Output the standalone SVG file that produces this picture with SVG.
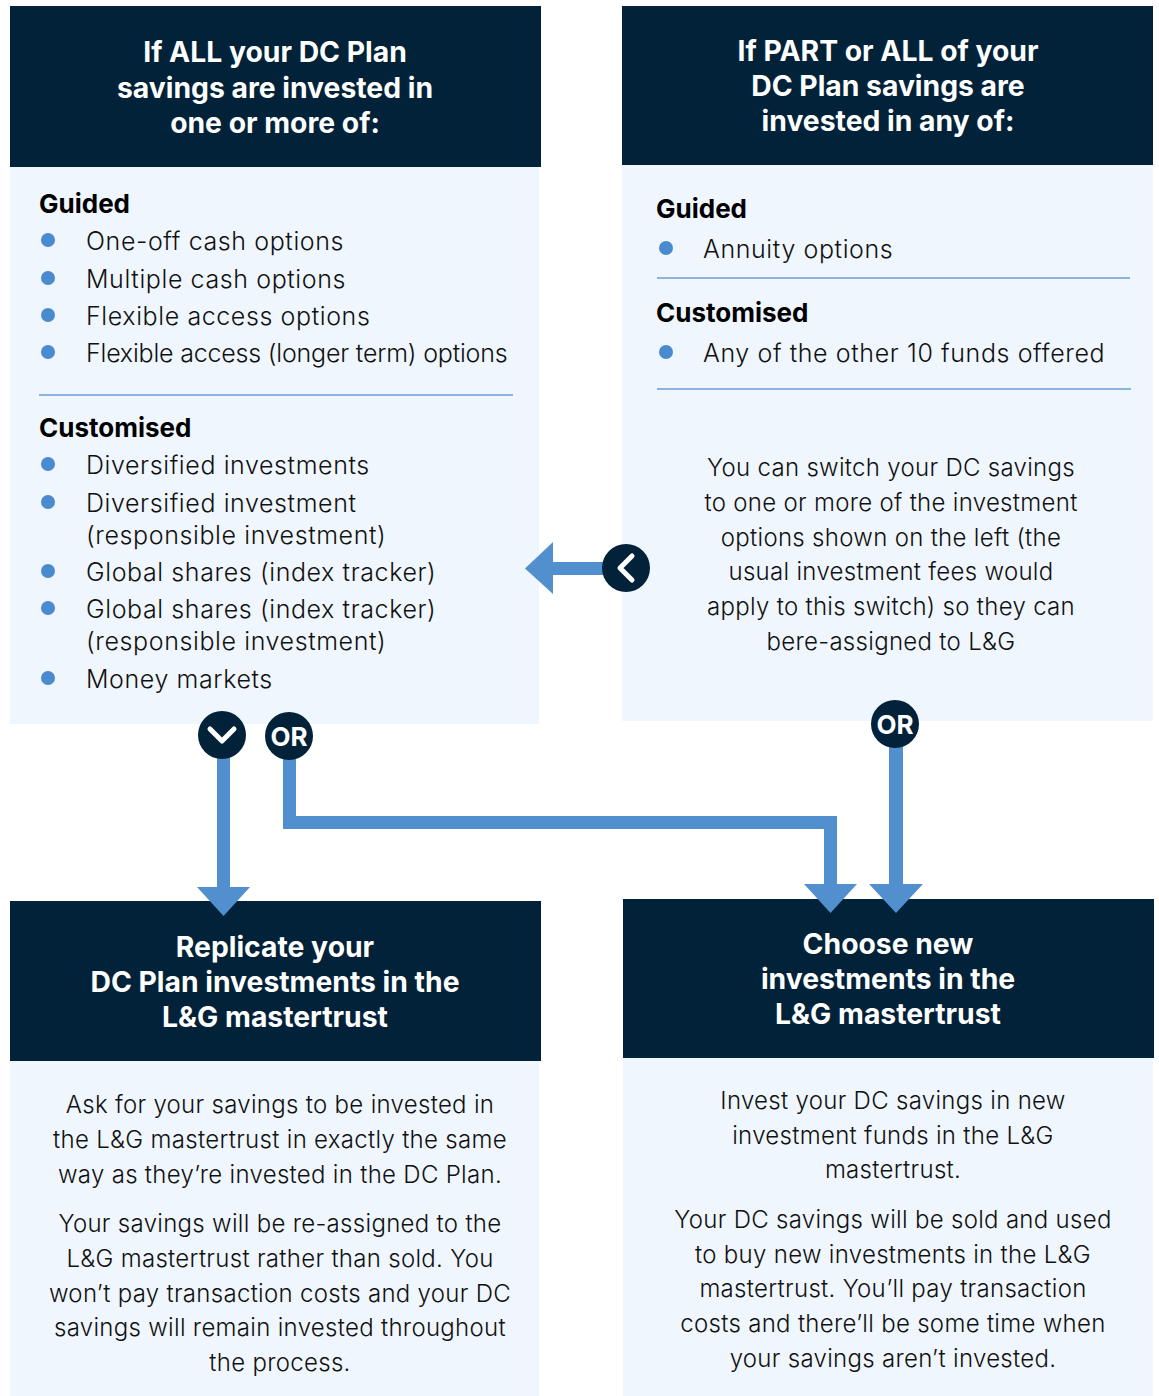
<svg xmlns="http://www.w3.org/2000/svg" width="1159" height="1396" viewBox="0 0 1159 1396">
  <style>
    .hdr { fill: #012239; }
    .pnl { fill: #eff6fd; }
    .ht { font-family: Inter, "Liberation Sans", sans-serif; font-weight: 700; font-size: 28.3px; fill: #ffffff; text-anchor: middle; }
    .sub { font-family: Inter, "Liberation Sans", sans-serif; font-weight: 700; font-size: 26px; fill: #000000; }
    .li { font-family: Inter, "Liberation Sans", sans-serif; font-weight: 300; font-size: 25px; letter-spacing: 0.6px; fill: #111111; }
    .pt { font-family: Inter, "Liberation Sans", sans-serif; font-weight: 300; font-size: 24px; letter-spacing: 0.3px; fill: #111111; text-anchor: middle; }
    .tight { letter-spacing: -0.2px; }
    .dot { fill: #4a8bd0; }
    .rule { stroke: #6a9fd4; stroke-width: 1.5; }
    .flow { fill: #528fcf; }
    .badge { fill: #012239; }
    .chev { fill: none; stroke: #ffffff; stroke-width: 5; stroke-linecap: round; stroke-linejoin: round; }
    .or { font-family: Inter, "Liberation Sans", sans-serif; font-weight: 700; font-size: 26px; fill: #ffffff; text-anchor: middle; }
  </style>

  <!-- Top left: current DC Plan holdings fully in listed options -->
  <g id="node-all-invested">
    <rect class="pnl" x="10" y="167" width="529" height="557"/>
    <rect class="hdr" x="10" y="6" width="531" height="161"/>
    <text class="ht" x="275" y="62">If ALL your DC Plan</text>
    <text class="ht" x="275" y="98">savings are invested in</text>
    <text class="ht" x="275" y="133">one or more of:</text>

    <text class="sub" x="39" y="213">Guided</text>
    <circle class="dot" cx="48" cy="240" r="7"/>
    <text class="li" x="86" y="250">One-off cash options</text>
    <circle class="dot" cx="48" cy="278" r="7"/>
    <text class="li" x="86" y="288">Multiple cash options</text>
    <circle class="dot" cx="48" cy="315" r="7"/>
    <text class="li" x="86" y="325">Flexible access options</text>
    <circle class="dot" cx="48" cy="352" r="7"/>
    <text class="li tight" x="86" y="362">Flexible access (longer term) options</text>
    <line class="rule" x1="39" y1="395" x2="513" y2="395"/>

    <text class="sub" x="39" y="437">Customised</text>
    <circle class="dot" cx="48" cy="464" r="7"/>
    <text class="li" x="86" y="474">Diversified investments</text>
    <circle class="dot" cx="48" cy="502" r="7"/>
    <text class="li" x="86" y="512">Diversified investment</text>
    <text class="li" x="86" y="544">(responsible investment)</text>
    <circle class="dot" cx="48" cy="571" r="7"/>
    <text class="li" x="86" y="581">Global shares (index tracker)</text>
    <circle class="dot" cx="48" cy="608" r="7"/>
    <text class="li" x="86" y="618">Global shares (index tracker)</text>
    <text class="li" x="86" y="650">(responsible investment)</text>
    <circle class="dot" cx="48" cy="678" r="7"/>
    <text class="li" x="86" y="688">Money markets</text>
  </g>

  <!-- Top right: part or all held in other options -->
  <g id="node-part-invested">
    <rect class="pnl" x="622" y="165" width="531" height="556"/>
    <rect class="hdr" x="622" y="6" width="531" height="159"/>
    <text class="ht" x="888" y="61">If PART or ALL of your</text>
    <text class="ht" x="888" y="96">DC Plan savings are</text>
    <text class="ht" x="888" y="131">invested in any of:</text>

    <text class="sub" x="656" y="218">Guided</text>
    <circle class="dot" cx="666" cy="248" r="7"/>
    <text class="li" x="703" y="258">Annuity options</text>
    <line class="rule" x1="657" y1="278" x2="1130" y2="278"/>

    <text class="sub" x="656" y="322">Customised</text>
    <circle class="dot" cx="666" cy="352" r="7"/>
    <text class="li" x="703" y="362">Any of the other 10 funds offered</text>
    <line class="rule" x1="657" y1="389" x2="1131" y2="389"/>

    <text class="pt" x="891" y="476">You can switch your DC savings</text>
    <text class="pt" x="891" y="511">to one or more of the investment</text>
    <text class="pt" x="891" y="546">options shown on the left (the</text>
    <text class="pt" x="891" y="580">usual investment fees would</text>
    <text class="pt" x="891" y="615">apply to this switch) so they can</text>
    <text class="pt" x="891" y="650">bere-assigned to L&amp;G</text>
  </g>

  <!-- Bottom left: replicate -->
  <g id="node-replicate">
    <rect class="pnl" x="10" y="1061" width="529" height="335"/>
    <rect class="hdr" x="10" y="901" width="531" height="160"/>
    <text class="ht" x="275" y="957">Replicate your</text>
    <text class="ht" x="275" y="992">DC Plan investments in the</text>
    <text class="ht" x="275" y="1027">L&amp;G mastertrust</text>

    <text class="pt" x="280" y="1113">Ask for your savings to be invested in</text>
    <text class="pt" x="280" y="1148">the L&amp;G mastertrust in exactly the same</text>
    <text class="pt" x="280" y="1183">way as they’re invested in the DC Plan.</text>
    <text class="pt" x="280" y="1232">Your savings will be re-assigned to the</text>
    <text class="pt" x="280" y="1267">L&amp;G mastertrust rather than sold. You</text>
    <text class="pt" x="280" y="1302">won’t pay transaction costs and your DC</text>
    <text class="pt" x="280" y="1336">savings will remain invested throughout</text>
    <text class="pt" x="280" y="1371">the process.</text>
  </g>

  <!-- Bottom right: choose new -->
  <g id="node-choose-new">
    <rect class="pnl" x="623" y="1058" width="530" height="338"/>
    <rect class="hdr" x="623" y="899" width="531" height="159"/>
    <text class="ht" x="888" y="954">Choose new</text>
    <text class="ht" x="888" y="989">investments in the</text>
    <text class="ht" x="888" y="1024">L&amp;G mastertrust</text>

    <text class="pt" x="893" y="1109">Invest your DC savings in new</text>
    <text class="pt" x="893" y="1144">investment funds in the L&amp;G</text>
    <text class="pt" x="893" y="1178">mastertrust.</text>
    <text class="pt" x="893" y="1228">Your DC savings will be sold and used</text>
    <text class="pt" x="893" y="1263">to buy new investments in the L&amp;G</text>
    <text class="pt" x="893" y="1297">mastertrust. You’ll pay transaction</text>
    <text class="pt" x="893" y="1332">costs and there’ll be some time when</text>
    <text class="pt" x="893" y="1367">your savings aren’t invested.</text>
  </g>

  <!-- Connectors -->
  <g id="connectors">
    <!-- switch to left-hand options -->
    <path class="flow" d="M553,562 L606,562 L606,575 L553,575 L553,594 L525,568.5 L553,542 Z"/>
    <!-- replicate -->
    <path class="flow" d="M217,735 L230,735 L230,887 L250,887 L223.5,916 L197,887 L217,887 Z"/>
    <!-- OR from left to choose new -->
    <path class="flow" d="M283,736 L296,736 L296,816 L837,816 L837,884 L857,884 L830.5,913 L804,884 L824,884 L824,829 L283,829 Z"/>
    <!-- OR from right to choose new -->
    <path class="flow" d="M889,724 L903,724 L903,884 L923,884 L896,913 L869,884 L889,884 Z"/>

    <circle class="badge" cx="626" cy="568" r="24"/>
    <polyline class="chev" points="632,556 620,568 632,580"/>

    <circle class="badge" cx="222" cy="735" r="24"/>
    <polyline class="chev" points="210,729 222,741 234,729"/>

    <circle class="badge" cx="289" cy="736" r="24"/>
    <text class="or" x="289" y="745.5">OR</text>

    <circle class="badge" cx="895" cy="724" r="24"/>
    <text class="or" x="895" y="733.5">OR</text>
  </g>
</svg>
